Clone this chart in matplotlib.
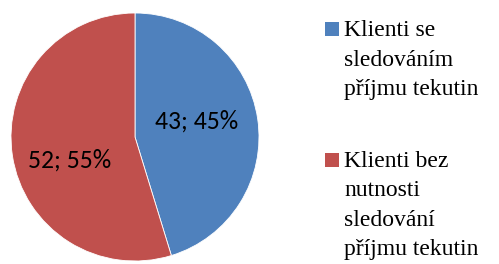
import os
import matplotlib
matplotlib.use("Agg")
import matplotlib.pyplot as plt
from matplotlib.patches import Rectangle
from matplotlib.font_manager import FontProperties

labels = ["Klienti se\nsledováním\npříjmu tekutin",
          "Klienti bez\nnutnosti\nsledování\npříjmu tekutin"]
values = [43, 52]
colors = ["#4F81BD", "#C0504D"]

W, H = 499, 264
fig = plt.figure(figsize=(W / 100, H / 100), dpi=100)
fig.patch.set_facecolor("white")

cx, cy, r = 135, 137, 124
ax = fig.add_axes([(cx - r) / W, (H - cy - r) / H, 2 * r / W, 2 * r / H])
total = sum(values)

def fmt(p):
    v = round(p * total / 100)
    return f"{v}; {p:.0f}%"

wedges, texts, autotexts = ax.pie(values, colors=colors, startangle=90, counterclock=False,
                                  autopct=fmt, pctdistance=0.55,
                                  wedgeprops=dict(edgecolor="white", linewidth=0.6),
                                  textprops=dict(fontsize=18.5, family="Carlito", color="black"))
ax.set_xlim(-1, 1)
ax.set_ylim(-1, 1)
ax.set_aspect("equal")
ax.axis("off")
autotexts[0].set_position((0.50, 0.13))
autotexts[1].set_position((-0.53, -0.19))

# legend
path = "/usr/share/fonts/truetype/liberation/LiberationSerif-Regular.ttf"
if os.path.exists(path):
    serif = FontProperties(fname=path, size=17)
else:
    serif = FontProperties(family="serif", size=17)
tops = [36, 166.7]
for lab, col, base in zip(labels, colors, tops):
    fig.patches.append(Rectangle((325 / W, 1 - base / H), 14 / W, 14 / H,
                                 transform=fig.transFigure, facecolor=col, edgecolor="none"))
    for i, line in enumerate(lab.split("\n")):
        fig.text(344 / W, 1 - (base + i * 29.5) / H, line,
                 fontproperties=serif, va="baseline", ha="left")

fig.savefig("out.png", dpi=100, facecolor="white")
